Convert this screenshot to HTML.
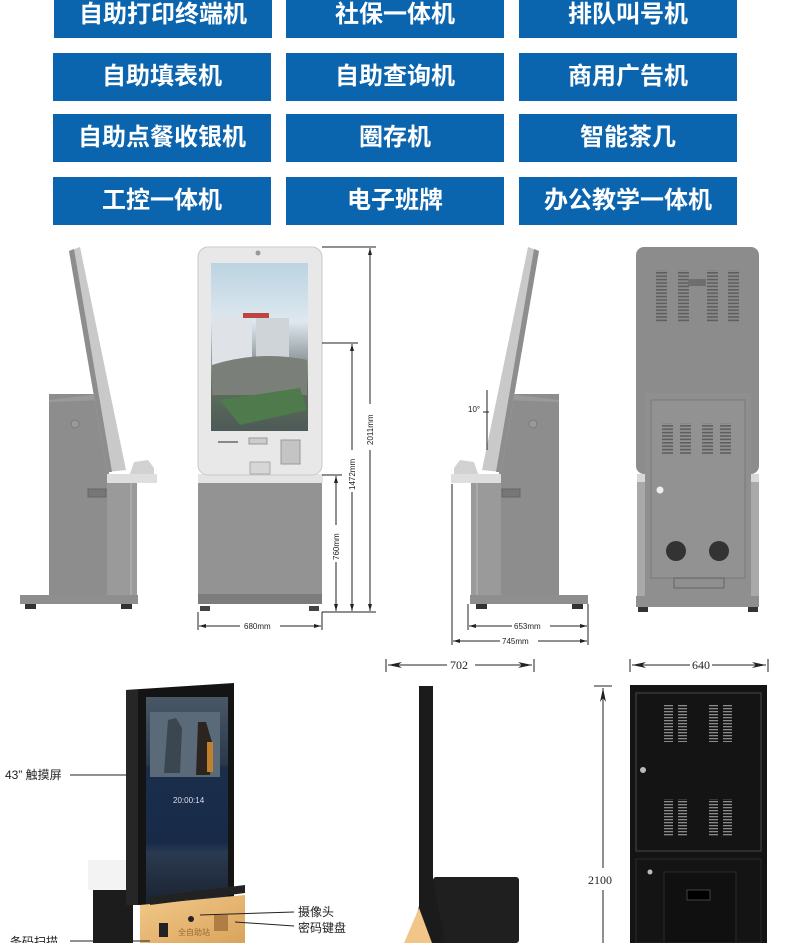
<!DOCTYPE html>
<html><head><meta charset="utf-8"><style>
html,body{margin:0;padding:0;background:#fff;}
body{width:790px;height:943px;overflow:hidden;position:relative;font-family:"Liberation Sans","Noto Sans CJK SC",sans-serif;}
.b{position:absolute;width:218px;background:#0b64ae;color:#fff;font-weight:bold;font-size:24px;text-align:center;font-family:"Liberation Sans","Noto Sans CJK SC",sans-serif;}
svg{position:absolute;left:0;top:0;}
</style></head><body>
<div class="b" style="left:54px;top:0;height:38px;line-height:30px;">自助打印终端机</div>
<div class="b" style="left:286px;top:0;height:38px;line-height:30px;">社保一体机</div>
<div class="b" style="left:519px;top:0;height:38px;line-height:30px;">排队叫号机</div>
<div class="b" style="left:53px;top:53px;height:48px;line-height:48px;">自助填表机</div>
<div class="b" style="left:286px;top:53px;height:48px;line-height:48px;">自助查询机</div>
<div class="b" style="left:519px;top:53px;height:48px;line-height:48px;">商用广告机</div>
<div class="b" style="left:53px;top:114px;height:48px;line-height:48px;">自助点餐收银机</div>
<div class="b" style="left:286px;top:114px;height:48px;line-height:48px;">圈存机</div>
<div class="b" style="left:519px;top:114px;height:48px;line-height:48px;">智能茶几</div>
<div class="b" style="left:53px;top:177px;height:48px;line-height:48px;">工控一体机</div>
<div class="b" style="left:286px;top:177px;height:48px;line-height:48px;">电子班牌</div>
<div class="b" style="left:519px;top:177px;height:48px;line-height:48px;">办公教学一体机</div>

<svg width="790" height="943" viewBox="0 0 790 943" xmlns="http://www.w3.org/2000/svg" font-family="Liberation Sans, sans-serif">
<defs>
<pattern id="vg" width="10" height="3.4" patternUnits="userSpaceOnUse"><rect width="10" height="1.6" fill="#5e5e5e"/></pattern>
<pattern id="vb" width="10" height="3" patternUnits="userSpaceOnUse"><rect width="10" height="1.3" fill="#8a8a8a"/></pattern>
<linearGradient id="sky" x1="0" y1="0" x2="0" y2="1"><stop offset="0" stop-color="#bcd3e2"/><stop offset="0.35" stop-color="#dde8ee"/><stop offset="0.55" stop-color="#9aa3a8"/><stop offset="0.75" stop-color="#5d6e5a"/><stop offset="1" stop-color="#4d5a58"/></linearGradient>
<linearGradient id="scr" x1="0" y1="0" x2="0" y2="1"><stop offset="0" stop-color="#4a5866"/><stop offset="0.32" stop-color="#2a3a4a"/><stop offset="0.34" stop-color="#1a2e4a"/><stop offset="0.7" stop-color="#182a48"/><stop offset="0.75" stop-color="#2a3a50"/><stop offset="1" stop-color="#1a2230"/></linearGradient>
<linearGradient id="gold" x1="0" y1="0" x2="1" y2="1"><stop offset="0" stop-color="#f3c98a"/><stop offset="1" stop-color="#d9a45c"/></linearGradient>
<g id="side">
 <rect x="49" y="394" width="60" height="202" fill="#8d8d8d"/>
 <polygon points="49,400 107,393 107,400 49,402" fill="#9a9a9a"/>
 <circle cx="75" cy="424" r="4" fill="#999" stroke="#7a7a7a"/>
 <rect x="88" y="489" width="18" height="8" fill="#777" stroke="#666"/>
 <rect x="107" y="481" width="30" height="115" fill="#9a9a9a"/>
 <line x1="131" y1="481" x2="131" y2="596" stroke="#bbb"/>
 <polygon points="69,251 80,247 126,470 107,472" fill="#c9c9c9"/>
 <polygon points="69,251 74,249 112,472 107,472" fill="#8d8d8d"/>
 <rect x="107" y="474" width="50" height="9" fill="#dedede"/>
 <polygon points="130,474 134,462 148,460 154,468 154,474" fill="#d2d2d2"/>
 <rect x="20" y="595" width="118" height="9" fill="#8e8e8e"/>
 <rect x="25" y="604" width="11" height="5" fill="#333"/>
 <rect x="121" y="604" width="11" height="5" fill="#333"/>
</g>
</defs>

<use href="#side"/>

<rect x="198" y="482" width="124" height="122" fill="#939393"/>
<rect x="198" y="594" width="124" height="10" fill="#7c7c7c"/>
<rect x="198" y="474" width="125" height="9" fill="#e4e4e4"/>
<rect x="198" y="247" width="124" height="228" rx="10" fill="#e8e8e8" stroke="#c8c8c8"/>
<circle cx="258" cy="253" r="2.5" fill="#999"/>
<rect x="211" y="263" width="97" height="168" fill="url(#sky)"/>
<rect x="212" y="317" width="40" height="48" fill="#dfe2e6"/>
<rect x="243" y="313" width="26" height="5" fill="#b44"/>
<rect x="256" y="318" width="33" height="45" fill="#cfd4d8"/>
<path d="M212,365 Q260,350 307,360 L307,395 L212,395Z" fill="#7a7f7a"/>
<path d="M220,400 L300,388 L307,410 L240,425Z" fill="#4f7a4c"/>
<rect x="218" y="441" width="20" height="2" fill="#888"/>
<rect x="249" y="438" width="18" height="6" fill="#ccc" stroke="#999"/>
<rect x="281" y="440" width="19" height="24" fill="#c4c4c4" stroke="#999"/>
<rect x="250" y="462" width="20" height="12" fill="#d6d6d6" stroke="#aaa"/>
<rect x="200" y="606" width="10" height="5" fill="#444"/><rect x="309" y="606" width="10" height="5" fill="#444"/>

<g stroke="#222" stroke-width="1" fill="none">
<line x1="322" y1="247" x2="376" y2="247"/>
<line x1="322" y1="343" x2="358" y2="343"/>
<line x1="322" y1="475" x2="342" y2="475"/>
<line x1="322" y1="612" x2="376" y2="612"/>
<line x1="370" y1="248" x2="370" y2="404"/><line x1="370" y1="450" x2="370" y2="611"/>
<line x1="352" y1="344" x2="352" y2="450"/><line x1="352" y1="492" x2="352" y2="611"/>
<line x1="336" y1="476" x2="336" y2="525"/><line x1="336" y1="562" x2="336" y2="611"/>
<line x1="198" y1="612" x2="198" y2="630"/><line x1="322" y1="612" x2="322" y2="630"/>
<line x1="199" y1="626" x2="240" y2="626"/><line x1="280" y1="626" x2="321" y2="626"/>
</g>
<g fill="#222">
<polygon points="370,248 368,255 372,255"/><polygon points="370,611 368,604 372,604"/>
<polygon points="352,344 350,351 354,351"/><polygon points="352,611 350,604 354,604"/>
<polygon points="336,476 334,483 338,483"/><polygon points="336,611 334,604 338,604"/>
<polygon points="199,626 206,624 206,628"/><polygon points="321,626 314,624 314,628"/>
</g>
<g font-size="8" fill="#222">
<text x="244" y="629">680mm</text>
<text transform="translate(373,445) rotate(-90)">2011mm</text>
<text transform="translate(355,490) rotate(-90)">1472mm</text>
<text transform="translate(339,560) rotate(-90)">760mm</text>
</g>

<g transform="translate(608,0) scale(-1,1)"><use href="#side"/></g>
<g stroke="#222" fill="none">
<line x1="487" y1="390" x2="487" y2="450"/>
<line x1="483" y1="412" x2="489" y2="412"/>
<line x1="452" y1="484" x2="452" y2="645"/>
<line x1="468" y1="604" x2="468" y2="630"/>
<line x1="588" y1="604" x2="588" y2="645"/>
<line x1="469" y1="626" x2="512" y2="626"/><line x1="550" y1="626" x2="587" y2="626"/>
<line x1="453" y1="641" x2="500" y2="641"/><line x1="538" y1="641" x2="587" y2="641"/>
</g>
<g fill="#222">
<polygon points="469,626 476,624 476,628"/><polygon points="587,626 580,624 580,628"/>
<polygon points="453,641 460,639 460,643"/><polygon points="587,641 580,639 580,643"/>
</g>
<g font-size="8" fill="#222">
<text x="468" y="412">10°</text>
<text x="514" y="629">653mm</text>
<text x="502" y="644">745mm</text>
</g>

<rect x="637" y="475" width="9" height="121" fill="#a9a9a9"/>
<rect x="750" y="475" width="9" height="121" fill="#a9a9a9"/>
<rect x="637" y="474" width="122" height="8" fill="#d8d8d8"/>
<rect x="636" y="247" width="123" height="227" rx="8" fill="#8c8c8c"/>
<rect x="656" y="270" width="11" height="52" fill="url(#vg)"/>
<rect x="678" y="270" width="11" height="52" fill="url(#vg)"/>
<rect x="707" y="270" width="11" height="52" fill="url(#vg)"/>
<rect x="728" y="270" width="11" height="52" fill="url(#vg)"/>
<rect x="688" y="279" width="18" height="7" fill="#6e6e6e"/>
<rect x="645" y="393" width="106" height="203" fill="#8f8f8f"/>
<rect x="651" y="400" width="94" height="178" fill="#929292" stroke="#7a7a7a"/>
<rect x="662" y="423" width="11" height="32" fill="url(#vg)"/>
<rect x="680" y="423" width="11" height="32" fill="url(#vg)"/>
<rect x="702" y="423" width="11" height="32" fill="url(#vg)"/>
<rect x="720" y="423" width="11" height="32" fill="url(#vg)"/>
<circle cx="660" cy="490" r="3.5" fill="#eee"/>
<circle cx="676" cy="551" r="10" fill="#333"/>
<circle cx="719" cy="551" r="10" fill="#333"/>
<rect x="674" y="578" width="50" height="10" fill="none" stroke="#555" stroke-width="0.7"/>
<rect x="636" y="596" width="123" height="11" fill="#8f8f8f"/>
<rect x="638" y="607" width="10" height="5" fill="#333"/><rect x="748" y="607" width="10" height="5" fill="#333"/>

<rect x="93" y="888" width="40" height="55" fill="#1c1c1c"/>
<rect x="88" y="860" width="42" height="30" fill="#f3f3f3"/>
<polygon points="126,690 234,683 234,905 126,905" fill="#141414"/>
<rect x="126" y="690" width="12" height="215" fill="#262626"/>
<rect x="146" y="697" width="82" height="208" fill="url(#scr)"/>
<rect x="150" y="712" width="70" height="65" fill="#5a6a78"/>
<path d="M168,720 l8,-2 l6,10 l-2,45 l-16,0z" fill="#3a4650"/>
<path d="M198,722 l8,0 l6,20 l-2,33 l-14,0z" fill="#2c2420"/>
<rect x="207" y="742" width="6" height="30" fill="#c08030"/>
<text x="173" y="803" font-size="8" fill="#dde">20:00:14</text>
<polygon points="140,905 245,895 245,943 140,943" fill="url(#gold)"/>
<polygon points="150,905 245,893 245,885 150,897" fill="#222"/>
<rect x="159" y="923" width="9" height="14" fill="#222"/>
<circle cx="191" cy="919" r="3" fill="#222"/>
<rect x="214" y="915" width="14" height="16" fill="#b07d44"/>
<text x="178" y="935" font-size="8" fill="#9a6a3a" font-family="Noto Sans CJK SC, sans-serif">全自助站</text>

<g stroke="#222" fill="none">
<line x1="70" y1="775" x2="128" y2="775"/>
<line x1="200" y1="915" x2="294" y2="912"/>
<line x1="235" y1="922" x2="294" y2="926"/>
<line x1="70" y1="941" x2="150" y2="941"/>
</g>
<g font-size="12" fill="#222" font-family="Liberation Sans, Noto Sans CJK SC, sans-serif">
<text x="5" y="779">43” 触摸屏</text>
<text x="298" y="916">摄像头</text>
<text x="298" y="932">密码键盘</text>
<text x="10" y="946">条码扫描</text>
</g>

<rect x="419" y="686" width="14" height="220" fill="#1b1b1b"/>
<rect x="433" y="877" width="86" height="66" rx="3" fill="#1f1f1f"/>
<polygon points="419,906 433,880 445,943 410,943" fill="#1b1b1b"/>
<polygon points="419,908 432,943 404,943" fill="#f2c688"/>

<rect x="630" y="685" width="137" height="258" fill="#141414"/>
<rect x="636" y="693" width="125" height="158" fill="none" stroke="#555" stroke-width="0.8"/>
<rect x="664" y="704" width="9" height="38" fill="url(#vb)"/>
<rect x="678" y="704" width="9" height="38" fill="url(#vb)"/>
<rect x="709" y="704" width="9" height="38" fill="url(#vb)"/>
<rect x="723" y="704" width="9" height="38" fill="url(#vb)"/>
<rect x="664" y="799" width="9" height="38" fill="url(#vb)"/>
<rect x="678" y="799" width="9" height="38" fill="url(#vb)"/>
<rect x="709" y="799" width="9" height="38" fill="url(#vb)"/>
<rect x="723" y="799" width="9" height="38" fill="url(#vb)"/>
<circle cx="643" cy="770" r="3" fill="#bbb"/>
<rect x="636" y="859" width="125" height="84" fill="none" stroke="#2a2a2a"/>
<circle cx="650" cy="872" r="2.5" fill="#bbb"/>
<rect x="664" y="872" width="72" height="71" fill="#101010" stroke="#2a2a2a"/>
<rect x="687" y="890" width="23" height="10" fill="#000" stroke="#444"/>

<g stroke="#222" fill="none">
<line x1="386" y1="659" x2="386" y2="672"/><line x1="534" y1="659" x2="534" y2="672"/>
<line x1="388" y1="665" x2="447" y2="665"/><line x1="475" y1="665" x2="532" y2="665"/>
<line x1="630" y1="659" x2="630" y2="672"/><line x1="768" y1="659" x2="768" y2="672"/>
<line x1="632" y1="665" x2="690" y2="665"/><line x1="712" y1="665" x2="766" y2="665"/>
<line x1="594" y1="686" x2="612" y2="686"/>
<line x1="603" y1="688" x2="603" y2="868"/><line x1="603" y1="890" x2="603" y2="943"/>
</g>
<g fill="#222">
<polygon points="388,665 402,662 398,665 402,668"/><polygon points="532,665 518,662 522,665 518,668"/>
<polygon points="632,665 646,662 642,665 646,668"/><polygon points="766,665 752,662 756,665 752,668"/>
<polygon points="603,688 600,702 603,698 606,702"/>
</g>
<g font-size="12" fill="#222" font-family="Liberation Serif, serif">
<text x="450" y="669">702</text>
<text x="692" y="669">640</text>
<text x="588" y="884">2100</text>
</g>
</svg>
</body></html>
